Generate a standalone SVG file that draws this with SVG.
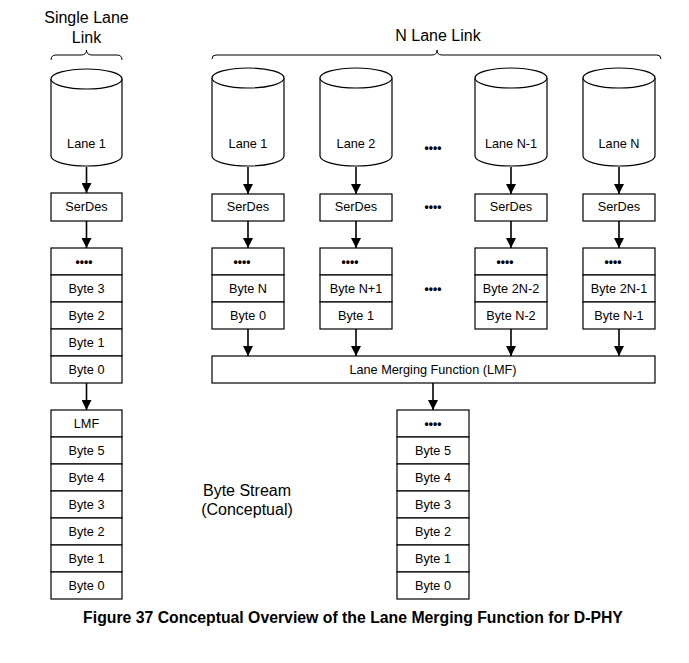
<svg xmlns="http://www.w3.org/2000/svg" width="689" height="663" viewBox="0 0 689 663">
<defs>
<style>
.b{fill:#fff;stroke:#000;stroke-width:1.2}
.t{font-family:"Liberation Sans",Arial,sans-serif;font-size:12.7px;text-anchor:middle;fill:#000}
.l{font-family:"Liberation Sans",Arial,sans-serif;font-size:16px;text-anchor:middle;fill:#000}
.d{font-family:"Liberation Sans",Arial,sans-serif;font-size:12px;font-weight:bold;text-anchor:middle;fill:#000}
.c{fill:none;stroke:#000;stroke-width:1.6}
.br{fill:none;stroke:#000;stroke-width:1}
</style>
<marker id="ah" viewBox="0 0 10 10" refX="10" refY="5" markerWidth="10" markerHeight="10" markerUnits="userSpaceOnUse" orient="auto">
<path d="M0,0 L10,5 L0,10 Z" fill="#000"/>
</marker>
</defs>
<rect width="689" height="663" fill="#fff"/>

<g id="labels">
<text class="l" x="86.5" y="23">Single Lane</text>
<text class="l" x="86.5" y="43">Link</text>
<path class="br" d="M51,60 Q51,55 56,55 L81,55 Q86.5,55 86.5,50 Q86.5,55 92,55 L117,55 Q122,55 122,60"/>
<text class="l" x="438" y="41">N Lane Link</text>
<path class="br" d="M212,59 Q212,55 216,55 L432,55 Q437,55 437,50 Q437,55 442,55 L657,55 Q661,55 661,59"/>
<text class="l" x="247" y="496">Byte Stream</text>
<text class="l" x="247" y="515">(Conceptual)</text>
<text x="353" y="623" style="font-family:'Liberation Sans',Arial,sans-serif;font-size:15.8px;font-weight:bold;text-anchor:middle">Figure 37 Conceptual Overview of the Lane Merging Function for D-PHY</text>
<text class="d" x="433" y="152">••••</text>
<text class="d" x="433" y="211">••••</text>
<text class="d" x="433" y="293">••••</text>
</g>

<g id="connectors">
<line class="c" x1="86.5" y1="167" x2="86.5" y2="193" marker-end="url(#ah)"/>
<line class="c" x1="86.5" y1="221" x2="86.5" y2="248" marker-end="url(#ah)"/>
<line class="c" x1="86.5" y1="383" x2="86.5" y2="410" marker-end="url(#ah)"/>
<line class="c" x1="248" y1="167" x2="248" y2="194" marker-end="url(#ah)"/>
<line class="c" x1="356" y1="167" x2="356" y2="194" marker-end="url(#ah)"/>
<line class="c" x1="511" y1="167" x2="511" y2="194" marker-end="url(#ah)"/>
<line class="c" x1="619" y1="167" x2="619" y2="194" marker-end="url(#ah)"/>
<line class="c" x1="248" y1="221" x2="248" y2="248" marker-end="url(#ah)"/>
<line class="c" x1="356" y1="221" x2="356" y2="248" marker-end="url(#ah)"/>
<line class="c" x1="511" y1="221" x2="511" y2="248" marker-end="url(#ah)"/>
<line class="c" x1="619" y1="221" x2="619" y2="248" marker-end="url(#ah)"/>
<line class="c" x1="248" y1="329" x2="248" y2="356" marker-end="url(#ah)"/>
<line class="c" x1="356" y1="329" x2="356" y2="356" marker-end="url(#ah)"/>
<line class="c" x1="511" y1="329" x2="511" y2="356" marker-end="url(#ah)"/>
<line class="c" x1="619" y1="329" x2="619" y2="356" marker-end="url(#ah)"/>
<line class="c" x1="433" y1="383" x2="433" y2="410" marker-end="url(#ah)"/>
</g>

<g id="lane-single">
<path class="b" d="M51,79 L51,156 A35.5,10 0 0 0 122,156 L122,79"/>
<ellipse class="b" cx="86.5" cy="79" rx="35.5" ry="10"/>
<text class="t" x="86.5" y="148">Lane 1</text>
</g>
<g id="lane1">
<path class="b" d="M212,78 L212,156 A36,10 0 0 0 284,156 L284,78"/>
<ellipse class="b" cx="248" cy="78" rx="36" ry="10"/>
<text class="t" x="248" y="148">Lane 1</text>
</g>
<g id="lane2">
<path class="b" d="M320,78 L320,156 A36,10 0 0 0 392,156 L392,78"/>
<ellipse class="b" cx="356" cy="78" rx="36" ry="10"/>
<text class="t" x="356" y="148">Lane 2</text>
</g>
<g id="laneN-1">
<path class="b" d="M475,78 L475,156 A36,10 0 0 0 547,156 L547,78"/>
<ellipse class="b" cx="511" cy="78" rx="36" ry="10"/>
<text class="t" x="511" y="148">Lane N-1</text>
</g>
<g id="laneN">
<path class="b" d="M583,78 L583,156 A36,10 0 0 0 655,156 L655,78"/>
<ellipse class="b" cx="619" cy="78" rx="36" ry="10"/>
<text class="t" x="619" y="148">Lane N</text>
</g>

<g id="serdes-single">
<rect class="b" x="51" y="193" width="71" height="28"/>
<text class="t" x="86.5" y="211">SerDes</text>
</g>
<g id="serdes1"><rect class="b" x="212" y="194" width="72" height="27"/><text class="t" x="248" y="211">SerDes</text></g>
<g id="serdes2"><rect class="b" x="320" y="194" width="72" height="27"/><text class="t" x="356" y="211">SerDes</text></g>
<g id="serdes3"><rect class="b" x="475" y="194" width="72" height="27"/><text class="t" x="511" y="211">SerDes</text></g>
<g id="serdes4"><rect class="b" x="583" y="194" width="72" height="27"/><text class="t" x="619" y="211">SerDes</text></g>

<g id="stack-single">
<rect class="b" x="51" y="248" width="71" height="27"/><text class="d" x="84" y="266">••••</text>
<rect class="b" x="51" y="275" width="71" height="27"/><text class="t" x="86.5" y="293">Byte 3</text>
<rect class="b" x="51" y="302" width="71" height="27"/><text class="t" x="86.5" y="320">Byte 2</text>
<rect class="b" x="51" y="329" width="71" height="27"/><text class="t" x="86.5" y="347">Byte 1</text>
<rect class="b" x="51" y="356" width="71" height="27"/><text class="t" x="86.5" y="374">Byte 0</text>
</g>

<g id="stack1">
<rect class="b" x="212" y="248" width="72" height="27"/><text class="d" x="242" y="266">••••</text>
<rect class="b" x="212" y="275" width="72" height="27"/><text class="t" x="248" y="293">Byte N</text>
<rect class="b" x="212" y="302" width="72" height="27"/><text class="t" x="248" y="320">Byte 0</text>
</g>
<g id="stack2">
<rect class="b" x="320" y="248" width="72" height="27"/><text class="d" x="350" y="266">••••</text>
<rect class="b" x="320" y="275" width="72" height="27"/><text class="t" x="356" y="293">Byte N+1</text>
<rect class="b" x="320" y="302" width="72" height="27"/><text class="t" x="356" y="320">Byte 1</text>
</g>
<g id="stack3">
<rect class="b" x="475" y="248" width="72" height="27"/><text class="d" x="505" y="266">••••</text>
<rect class="b" x="475" y="275" width="72" height="27"/><text class="t" x="511" y="293">Byte 2N-2</text>
<rect class="b" x="475" y="302" width="72" height="27"/><text class="t" x="511" y="320">Byte N-2</text>
</g>
<g id="stack4">
<rect class="b" x="583" y="248" width="72" height="27"/><text class="d" x="613" y="266">••••</text>
<rect class="b" x="583" y="275" width="72" height="27"/><text class="t" x="619" y="293">Byte 2N-1</text>
<rect class="b" x="583" y="302" width="72" height="27"/><text class="t" x="619" y="320">Byte N-1</text>
</g>

<g id="lmf">
<rect class="b" x="212" y="356" width="443" height="27"/>
<text class="t" x="433" y="374">Lane Merging Function (LMF)</text>
</g>

<g id="stream-single">
<rect class="b" x="51" y="410" width="71" height="27"/><text class="t" x="86.5" y="428">LMF</text>
<rect class="b" x="51" y="437" width="71" height="27"/><text class="t" x="86.5" y="455">Byte 5</text>
<rect class="b" x="51" y="464" width="71" height="27"/><text class="t" x="86.5" y="482">Byte 4</text>
<rect class="b" x="51" y="491" width="71" height="27"/><text class="t" x="86.5" y="509">Byte 3</text>
<rect class="b" x="51" y="518" width="71" height="27"/><text class="t" x="86.5" y="536">Byte 2</text>
<rect class="b" x="51" y="545" width="71" height="27"/><text class="t" x="86.5" y="563">Byte 1</text>
<rect class="b" x="51" y="572" width="71" height="27"/><text class="t" x="86.5" y="590">Byte 0</text>
</g>

<g id="stream-n">
<rect class="b" x="397" y="410" width="72" height="27"/><text class="d" x="433" y="428">••••</text>
<rect class="b" x="397" y="437" width="72" height="27"/><text class="t" x="433" y="455">Byte 5</text>
<rect class="b" x="397" y="464" width="72" height="27"/><text class="t" x="433" y="482">Byte 4</text>
<rect class="b" x="397" y="491" width="72" height="27"/><text class="t" x="433" y="509">Byte 3</text>
<rect class="b" x="397" y="518" width="72" height="27"/><text class="t" x="433" y="536">Byte 2</text>
<rect class="b" x="397" y="545" width="72" height="27"/><text class="t" x="433" y="563">Byte 1</text>
<rect class="b" x="397" y="572" width="72" height="27"/><text class="t" x="433" y="590">Byte 0</text>
</g>
</svg>
